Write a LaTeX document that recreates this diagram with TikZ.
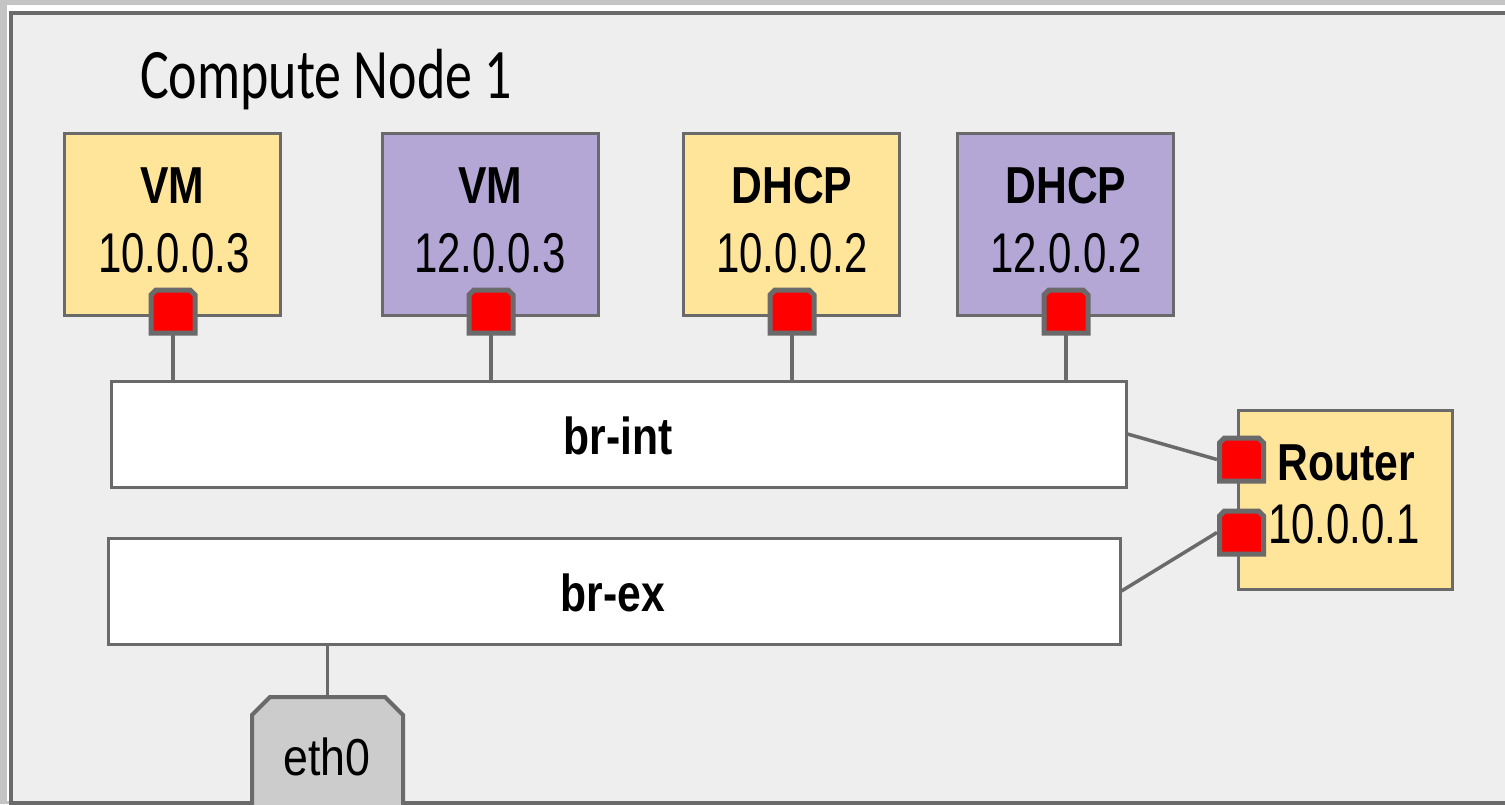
\documentclass[tikz,border=0pt]{standalone}
\usepackage{fontspec}
\usepackage{graphicx}
\setmainfont{Liberation Sans}
\newfontfamily\titlefont{Carlito}

\definecolor{outerbg}{HTML}{C4C4C4}
\definecolor{panelbg}{HTML}{EEEEEE}
\definecolor{edge}{HTML}{6A6A6A}
\definecolor{netA}{HTML}{FFE599}
\definecolor{netB}{HTML}{B4A7D6}
\definecolor{nicgray}{HTML}{CCCCCC}
\definecolor{portred}{HTML}{FF0000}

\newcommand\boldlbl[1]{\scalebox{0.82}[1]{\fontsize{52}{60}\selectfont\bfseries #1}}
\newcommand\iplbl[1]{\scalebox{0.75}[1]{\fontsize{56}{64}\selectfont #1}}

% outline of a node with its two upper corners cut off
\newcommand\cutbox[3]{%
  \draw[#3] (#1.south west) -- ([yshift=-#2]#1.north west) -- ([xshift=#2]#1.north west)
    -- ([xshift=-#2]#1.north east) -- ([yshift=-#2]#1.north east) -- (#1.south east) -- cycle;}

\tikzset{
  hostbox/.style={draw=edge, line width=3pt, rectangle, inner sep=0pt,
    minimum width=216pt, minimum height=182pt},
  bridgebox/.style={draw=edge, fill=white, line width=3pt, rectangle, inner sep=0pt,
    minimum height=106pt},
  port/.style={rectangle, inner sep=0pt, outer sep=0pt,
    minimum width=44pt, minimum height=43pt},
  portline/.style={draw=edge, fill=portred, line width=5pt, line join=miter},
  nicline/.style={draw=edge, fill=nicgray, line width=4pt, line join=miter},
  wire/.style={draw=edge, line width=3.5pt},
  txt/.style={inner sep=0pt, anchor=base},
}

\begin{document}
\begin{tikzpicture}[x=1pt, y=-1pt]
  \useasboundingbox (0,0) rectangle (1505,804);
  % window background and frame
  \fill[outerbg] (0,0) rectangle (1505,804);
  \fill[white] (7,5) rectangle (1505,801);
  \draw[edge, fill=panelbg, line width=4pt] (11,12.5) rectangle (1515,802.5);

  \node[txt, anchor=base west] (title) at (140,98)
    {\scalebox{0.76}[1]{\titlefont\fontsize{71}{80}\selectfont Compute Node 1}};

  % hosts on the integration bridge
  \node[hostbox, fill=netA] (vmA) at (172,224.5) {};
  \node[hostbox, fill=netB] (vmB) at (490,224.5) {};
  \node[hostbox, fill=netA] (dhA) at (791,224.5) {};
  \node[hostbox, fill=netB] (dhB) at (1065,224.5) {};

  \node[txt] (vmAt) at (172,203) {\boldlbl{VM}};
  \node[txt] (vmAi) at (174,272) {\iplbl{10.0.0.3}};
  \node[txt] (vmBt) at (490,203) {\boldlbl{VM}};
  \node[txt] (vmBi) at (490,272) {\iplbl{12.0.0.3}};
  \node[txt] (dhAt) at (792,203) {\boldlbl{DHCP}};
  \node[txt] (dhAi) at (792,272) {\iplbl{10.0.0.2}};
  \node[txt] (dhBt) at (1066,203) {\boldlbl{DHCP}};
  \node[txt] (dhBi) at (1066,272) {\iplbl{12.0.0.2}};

  % bridges
  \node[bridgebox, minimum width=1015pt] (brint) at (618.5,434) {};
  \node[txt] (brintt) at (618,454) {\boldlbl{br-int}};
  \node[bridgebox, minimum width=1012pt] (brex) at (614,591) {};
  \node[txt] (brext) at (613,611) {\boldlbl{br-ex}};

  % router
  \node[hostbox, fill=netA, minimum width=214pt, minimum height=179pt] (router) at (1345,499.5) {};
  \node[txt] (routert) at (1346,480) {\boldlbl{Router}};
  \node[txt] (routeri) at (1344,543) {\iplbl{10.0.0.1}};

  % physical interface
  \node[rectangle, inner sep=0pt, outer sep=0pt, minimum width=151pt, minimum height=150pt,
    anchor=north] (eth) at (327.5,697) {};
  \cutbox{eth}{18pt}{nicline}
  \node[txt] (etht) at (327,775) {\scalebox{0.86}[1]{\fontsize{52}{60}\selectfont eth0}};

  % ports
  \node[port] (pvmA) at (173,311.5) {};
  \node[port] (pvmB) at (491,311.5) {};
  \node[port] (pdhA) at (792,311.5) {};
  \node[port] (pdhB) at (1066,311.5) {};
  \node[port] (prA) at (1241.5,459.5) {};
  \node[port] (prB) at (1241.5,532.5) {};
  \foreach \p in {pvmA,pvmB,pdhA,pdhB,prA,prB}{\cutbox{\p}{5pt}{portline}}

  % links
  \draw[wire] (pvmA.south) ++(0,2.5pt) -- (pvmA.south |- brint.north);
  \draw[wire] (pvmB.south) ++(0,2.5pt) -- (pvmB.south |- brint.north);
  \draw[wire] (pdhA.south) ++(0,2.5pt) -- (pdhA.south |- brint.north);
  \draw[wire] (pdhB.south) ++(0,2.5pt) -- (pdhB.south |- brint.north);
  \draw[wire] (brint.east) -- ([xshift=-2.5pt]prA.west);
  \draw[wire] (brex.east) -- ([xshift=-2.5pt]prB.west);
  \draw[wire] (eth.north) -- (eth.north |- brex.south);
\end{tikzpicture}
\end{document}
